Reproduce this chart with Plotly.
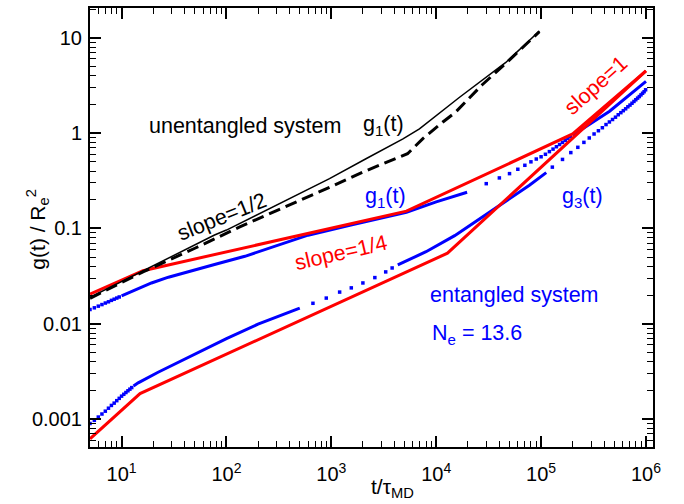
import plotly.graph_objects as go

# ---------------- data ----------------
# unentangled system (black)
t_g1_unent = [5, 16, 77, 100, 961, 2140, 4820, 6920, 16700, 46100, 96400]
g_g1_unent = [0.0189, 0.0358, 0.0853, 0.0962, 0.333, 0.539, 0.872, 1.11, 2.38, 5.52, 11.8]
t_g3_unent = [5, 16, 50, 134, 961, 1990, 5330, 7420, 11500, 15300, 27300, 46100, 96400]
g_g3_unent = [0.0185, 0.035, 0.062, 0.104, 0.27, 0.39, 0.608, 0.872, 1.30, 1.66, 3.2, 5.4, 11.6]

# entangled system g1 (blue)
t_g1_ent_dots_a = [5, 5.5, 6, 6.5, 7, 7.5, 8, 8.5, 9, 9.5]
g_g1_ent_dots_a = [0.0141, 0.0147, 0.0153, 0.0159, 0.0165, 0.0170, 0.0176, 0.0181, 0.0186, 0.0191]
t_g1_ent_line_a = [10, 14, 19.3, 28, 40, 77, 150, 300, 600, 1500, 5200, 10000, 19700]
g_g1_ent_line_a = [0.0196, 0.0232, 0.0268, 0.0308, 0.0345, 0.0418, 0.051, 0.066, 0.085, 0.108,
                   0.148, 0.190, 0.240]
t_g1_ent_dots_b = [30000, 40000, 50000, 60000, 70000, 80000, 90000, 100000, 110000,
                   120000, 130000, 140000, 150000, 160000, 170000, 180000, 190000]
g_g1_ent_dots_b = [0.295, 0.339, 0.376, 0.418, 0.460, 0.50, 0.535, 0.565, 0.60,
                   0.64, 0.68, 0.72, 0.76, 0.80, 0.84, 0.88, 0.92]
t_g1_ent_line_b = [200000, 450000, 1000000]
g_g1_ent_line_b = [0.95, 1.70, 3.5]

# entangled system g3 (blue)
t_g3_ent_dots_a = [5, 5.5, 6, 6.5, 7, 7.5, 8, 8.5, 9, 9.5, 10, 10.5, 11, 11.5, 12, 12.5]
g_g3_ent_dots_a = [0.00090, 0.00097, 0.00105, 0.00113, 0.00121, 0.00130, 0.00139, 0.00147,
                   0.00156, 0.00165, 0.00174, 0.00182, 0.00190, 0.00198, 0.00206, 0.00214]
t_g3_ent_line_a = [13, 14.4, 22.3, 32.2, 50, 100, 200, 500]
g_g3_ent_line_a = [0.00222, 0.0024, 0.0031, 0.0038, 0.0048, 0.0070, 0.0099, 0.0146]
t_g3_ent_dots_b = [668, 895, 1200, 1550, 2000, 2600, 3300, 3800]
g_g3_ent_dots_b = [0.0164, 0.0186, 0.0215, 0.0238, 0.0268, 0.0305, 0.0350, 0.0385]
t_g3_ent_line_b = [4300, 8000, 15000, 35900, 77400, 112000]
g_g3_ent_line_b = [0.0415, 0.057, 0.084, 0.161, 0.284, 0.385]
t_g3_ent_dots_c = [128000, 160000, 192000, 224000, 256000, 288000, 320000, 352000, 384000,
                   416000, 448000, 480000, 512000, 544000, 576000, 608000, 640000, 672000,
                   704000, 736000, 768000, 800000, 832000, 864000, 896000, 928000, 960000, 992000]
g_g3_ent_dots_c = [0.44, 0.53, 0.625, 0.71, 0.80, 0.89, 0.98, 1.06, 1.14,
                   1.23, 1.31, 1.39, 1.47, 1.56, 1.64, 1.72, 1.80, 1.89,
                   1.97, 2.06, 2.15, 2.24, 2.33, 2.42, 2.52, 2.62, 2.72, 2.85]

# power-law guide lines (red)
t_fit_upper = [5, 16, 5200, 200000, 1000000]
g_fit_upper = [0.0205, 0.036, 0.152, 0.98, 4.5]
t_fit_lower = [5, 15, 12800, 1000000]
g_fit_lower = [0.00062, 0.00185, 0.055, 4.5]

# axis ticks
x_tickvals = [1e1, 1e2, 1e3, 1e4, 1e5, 1e6]
x_ticktext = ["10<sup>1</sup>", "10<sup>2</sup>", "10<sup>3</sup>",
              "10<sup>4</sup>", "10<sup>5</sup>", "10<sup>6</sup>"]
y_tickvals = [0.001, 0.01, 0.1, 1, 10]
y_ticktext = ["0.001", "0.01", "0.1", "1", "10"]
x_minor = [m * 10 ** k for k in range(0, 7) for m in range(2, 10)]
y_minor = [m * 10 ** k for k in range(-4, 2) for m in range(2, 10)]

BLUE = "#0000ff"
RED = "#ff0000"
BLACK = "#000000"

fig = go.Figure()

# blue data
for tx, gy in [(t_g1_ent_line_a, g_g1_ent_line_a), (t_g1_ent_line_b, g_g1_ent_line_b),
               (t_g3_ent_line_a, g_g3_ent_line_a), (t_g3_ent_line_b, g_g3_ent_line_b)]:
    fig.add_trace(go.Scatter(x=tx, y=gy, mode="lines", line=dict(color=BLUE, width=3)))
for tx, gy in [(t_g1_ent_dots_a, g_g1_ent_dots_a), (t_g1_ent_dots_b, g_g1_ent_dots_b),
               (t_g3_ent_dots_a, g_g3_ent_dots_a), (t_g3_ent_dots_b, g_g3_ent_dots_b),
               (t_g3_ent_dots_c, g_g3_ent_dots_c)]:
    fig.add_trace(go.Scatter(x=tx, y=gy, mode="markers",
                             marker=dict(color=BLUE, size=3.5, symbol="square")))

# red guide lines
fig.add_trace(go.Scatter(x=t_fit_upper, y=g_fit_upper, mode="lines", line=dict(color=RED, width=3)))
fig.add_trace(go.Scatter(x=t_fit_lower, y=g_fit_lower, mode="lines", line=dict(color=RED, width=3)))

# black data
fig.add_trace(go.Scatter(x=t_g1_unent, y=g_g1_unent, mode="lines",
                         line=dict(color=BLACK, width=1.5)))
fig.add_trace(go.Scatter(x=t_g3_unent, y=g_g3_unent, mode="lines",
                         line=dict(color=BLACK, width=3, dash="12px,6px")))

FONT = "Liberation Sans, Arial, Helvetica, sans-serif"

axis_common = dict(
    type="log", showgrid=False, zeroline=False, showline=True, linewidth=2,
    linecolor=BLACK, mirror="allticks", ticks="inside", ticklen=11, tickwidth=2,
    tickcolor=BLACK, tickfont=dict(size=20, family=FONT, color=BLACK),
)
fig.update_xaxes(range=[0.699, 6.067], tickmode="array", tickvals=x_tickvals,
                 ticktext=x_ticktext, ticklabelstandoff=8,
                 minor=dict(tickmode="array", tickvals=x_minor, ticks="inside",
                            ticklen=6, tickwidth=1, tickcolor=BLACK, showgrid=False),
                 **axis_common)
fig.update_yaxes(range=[-3.293, 1.313], tickmode="array", tickvals=y_tickvals,
                 ticktext=y_ticktext, ticklabelstandoff=2,
                 minor=dict(tickmode="array", tickvals=y_minor, ticks="inside",
                            ticklen=6, tickwidth=1, tickcolor=BLACK, showgrid=False),
                 **axis_common)

annots = [
    dict(text="unentangled system", x=2.174, y=0.073, color=BLACK, angle=0, xanchor="center"),
    dict(text="g<sub>1</sub>(t)", x=3.498, y=0.084, color=BLACK, angle=0, xanchor="center"),
    dict(text="slope=1/2", x=1.955, y=-0.878, color=BLACK, angle=-22, xanchor="center"),
    dict(text="g<sub>1</sub>(t)", x=3.517, y=-0.679, color=BLUE, angle=0, xanchor="center"),
    dict(text="slope=1/4", x=3.088, y=-1.254, color=RED, angle=-13, xanchor="center"),
    dict(text="slope=1", x=5.528, y=0.502, color=RED, angle=-42, xanchor="center"),
    dict(text="g<sub>3</sub>(t)", x=5.395, y=-0.679, color=BLUE, angle=0, xanchor="center"),
    dict(text="entangled system", x=4.746, y=-1.703, color=BLUE, angle=0, xanchor="center"),
    dict(text="N<sub>e</sub> = 13.6", x=3.936, y=-2.111, color=BLUE, angle=0, xanchor="left"),
]
for a in annots:
    fig.add_annotation(text=a["text"], x=a["x"], y=a["y"], xref="x", yref="y",
                       showarrow=False, textangle=a["angle"], xanchor=a["xanchor"],
                       yanchor="middle", font=dict(size=21.5, family=FONT, color=a["color"]))

# axis titles
fig.add_annotation(text="g(t) / R<sub>e</sub><sup>2</sup>", x=-0.122, y=0.497,
                   xref="paper", yref="paper", showarrow=False, textangle=-90,
                   font=dict(size=21, family=FONT, color=BLACK))
fig.add_annotation(text="t/τ<sub>MD</sub>", x=0.538, y=-0.128,
                   xref="paper", yref="paper", showarrow=False,
                   font=dict(size=21, family=FONT, color=BLACK))

fig.update_layout(width=684, height=504, margin=dict(l=90, r=31, t=6, b=57),
                  plot_bgcolor="white", paper_bgcolor="white", showlegend=False,
                  font=dict(family=FONT, size=20, color=BLACK))

fig.write_html("out.html", config={"displayModeBar": False},
               post_script="document.body.style.margin='0px';document.body.style.overflow='hidden';")
